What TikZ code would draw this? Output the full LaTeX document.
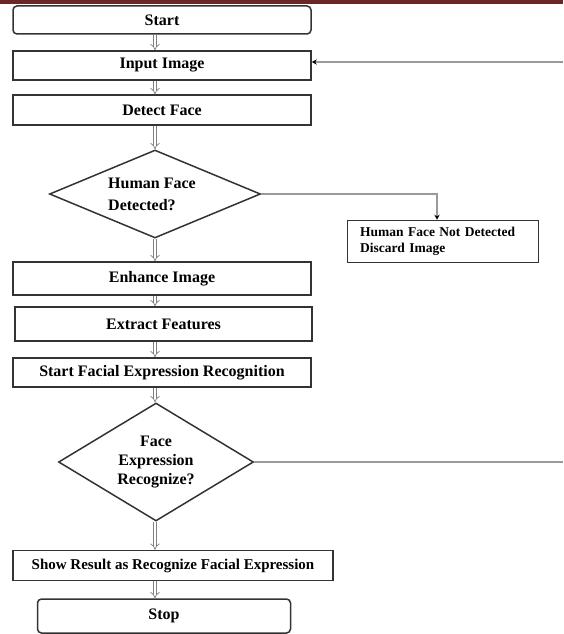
\documentclass[tikz,border=0pt]{standalone}
\usepackage{fontspec}
\setmainfont{Liberation Serif}
\usetikzlibrary{shapes.geometric,arrows.meta}
\definecolor{bandred}{HTML}{6B2626}
\definecolor{boxline}{HTML}{333333}
\definecolor{connline}{HTML}{9A9A9A}
\definecolor{dblline}{HTML}{808080}
\tikzset{
  box/.style={draw=boxline, line width=1.5pt, rectangle, inner sep=0pt, font=\fontsize{16}{19}\selectfont\bfseries},
  roundbox/.style={box, rounded corners=4pt},
  decision/.style={draw=boxline, line width=1.5pt, diamond, inner sep=0pt, font=\fontsize{16}{19}\selectfont\bfseries},
  dbl/.style={draw=dblline, double=white, double distance=2.6pt, line width=0.7pt, -{Implies}},
  conn/.style={draw=connline, line width=1.2pt},
  connarrow/.style={conn, -{Stealth[length=5pt,width=5pt,color=black]}},
}
\begin{document}
\begin{tikzpicture}[x=1pt, y=-1pt]
\useasboundingbox (0,0) rectangle (563,634);
\fill[bandred] (0,0) rectangle (563,4.5);

\node[roundbox, minimum width=298, minimum height=28] (start) at (162,20) {Start};
\node[box, minimum width=298, minimum height=29] (input) at (162,65.5) {Input Image};
\node[box, minimum width=298, minimum height=30] (detect) at (162,110) {Detect Face};
\node[decision, aspect=2.4, minimum width=211, minimum height=88] (d1) at (155,194) {};
\node[font=\fontsize{16}{22}\selectfont\bfseries, align=left, inner sep=0pt] (d1t) at (152,194) {Human Face\\Detected?};
\node[box, minimum width=191, minimum height=42, align=left, font=\fontsize{13.5}{16}\selectfont\bfseries, text width=166, inner xsep=0pt] (discard) at (443,241.5) {Human Face Not Detected\\Discard Image};
\node[box, minimum width=298, minimum height=33] (enhance) at (162,278.5) {Enhance Image};
\node[box, minimum width=297, minimum height=34] (extract) at (163.5,324) {Extract Features};
\node[box, minimum width=298, minimum height=29] (sfer) at (162,372.5) {Start Facial Expression Recognition};
\node[decision, aspect=1.65, minimum width=195, minimum height=118, align=center] (d2) at (156,462) {Face\\Expression\\Recognize?};
\node[box, minimum width=320, minimum height=30, font=\fontsize{15}{18}\selectfont\bfseries] (show) at (173,565.5) {Show Result as Recognize Facial Expression};
\node[roundbox, minimum width=253, minimum height=34] (stop) at (164,616) {Stop};

\coordinate (r1) at (563,462);
\coordinate (r2) at (563,62);
\coordinate (dk) at (437,193);

\draw[dbl] (start.south -| d1.north) -- (input.north -| d1.north);
\draw[dbl] (input.south -| d1.north) -- (detect.north -| d1.north);
\draw[dbl] (detect.south -| d1.north) -- (d1.north);
\draw[dbl] (d1.south) -- (enhance.north -| d1.south);
\draw[dbl] (enhance.south -| d1.north) -- (extract.north -| d1.north);
\draw[dbl] (extract.south -| d1.north) -- (sfer.north -| d1.north);
\draw[dbl] (sfer.south -| d1.north) -- (d2.north -| d1.north);
\draw[dbl] (d2.south -| d1.north) -- (show.north -| d1.north);
\draw[dbl] (show.south -| d1.north) -- (stop.north -| d1.north);

\draw[connarrow] (d1.east) -- (d1.east -| dk) -- (discard.north -| dk);
\draw[conn] (d2.east) -- (r1);
\draw[connarrow] (r2) -- (input.east |- r2);
\end{tikzpicture}
\end{document}
